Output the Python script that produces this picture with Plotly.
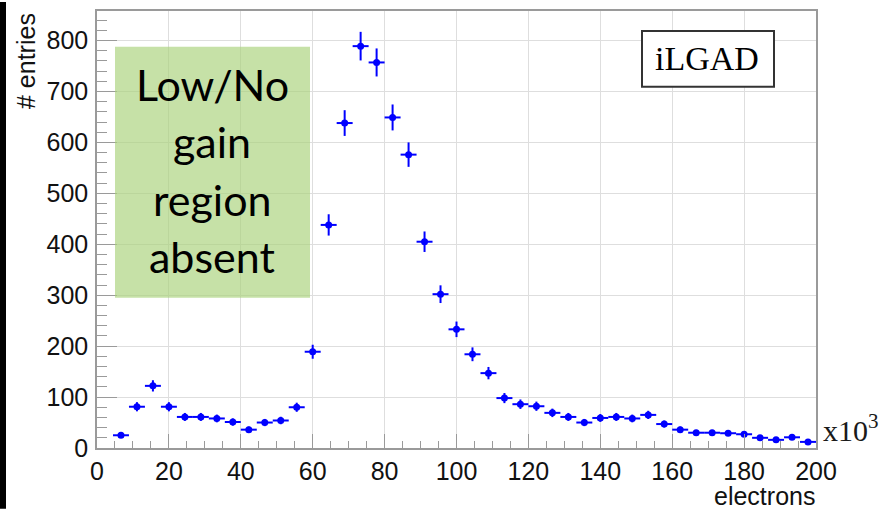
import numpy as np
import plotly.graph_objects as go

# Histogram binning: 45 bins spanning 0..200 (x10^3 electrons)
x_lo, x_hi, n_bins = 0.0, 200.0, 45
first_bin = 1  # bins are 0-indexed; bin 0 is empty

# Entries per bin, starting at bin index 1
counts = [25, 81, 122, 81, 61, 61, 58, 51, 36, 50, 54, 80,
          189, 438, 638, 789, 757, 649, 576, 405, 302, 233, 184, 147,
          98, 86, 82, 69, 61, 50, 59, 61, 58, 65, 47, 36,
          30, 30, 29, 27, 20, 16, 21, 12]

bin_w = (x_hi - x_lo) / n_bins
edges = x_lo + bin_w * np.arange(n_bins + 1)
centers = 0.5 * (edges[:-1] + edges[1:])
xs = centers[first_bin:first_bin + len(counts)]
ys = np.array(counts, dtype=float)
errs = np.sqrt(ys)  # Poisson uncertainty per bin

W, H = 892, 509
L, R, T, B = 97, 76, 9, 61
PW, PH = W - L - R, H - T - B


def px(x):
    return (x - L) / PW


def py(y):
    return 1 - (y - T) / PH


fig = go.Figure()
fig.add_trace(go.Scatter(
    x=xs, y=ys, mode="markers",
    marker=dict(color="#0000ff", size=7),
    error_x=dict(type="constant", value=bin_w / 2, color="#0000ff",
                 thickness=2, width=0),
    error_y=dict(type="data", array=errs, color="#0000ff",
                 thickness=2, width=0),
    showlegend=False, hoverinfo="x+y",
))

tick_font = dict(family="Liberation Sans, Arial, sans-serif", size=25, color="#111")
frame = "#9a9a9a"
grid = "#dedede"

fig.update_xaxes(
    range=[x_lo, x_hi], tickvals=[0, 20, 40, 60, 80, 100, 120, 140, 160, 180, 200],
    ticks="inside", ticklen=14, tickcolor=frame, tickwidth=1,
    minor=dict(dtick=5, ticks="inside", ticklen=7, tickcolor=frame, showgrid=False),
    showgrid=True, gridcolor=grid, gridwidth=1,
    showline=True, linecolor=frame, linewidth=1.5, mirror=True,
    zeroline=False, tickfont=tick_font, ticklabelstandoff=0,
)
fig.update_yaxes(
    range=[0, 858], tickvals=[0, 100, 200, 300, 400, 500, 600, 700, 800],
    ticks="inside", ticklen=20, tickcolor=frame, tickwidth=1,
    minor=dict(dtick=20, ticks="inside", ticklen=10, tickcolor=frame, showgrid=False),
    showgrid=True, gridcolor=grid, gridwidth=1,
    showline=True, linecolor=frame, linewidth=1.5, mirror=True,
    zeroline=False, tickfont=tick_font, ticklabelstandoff=2,
)

shapes = [
    # dark strip along the left edge of the page
    dict(type="rect", xref="paper", yref="paper", x0=px(0), x1=px(6), y0=py(H), y1=py(0),
         fillcolor="black", line=dict(width=0), layer="above"),
    # shaded region label box
    dict(type="rect", xref="paper", yref="paper", x0=px(115), x1=px(310), y0=py(297), y1=py(45),
         fillcolor="rgba(168,209,120,0.65)", line=dict(width=0), layer="above"),
    # device label box
    dict(type="rect", xref="paper", yref="paper", x0=px(642), x1=px(774), y0=py(85), y1=py(29),
         fillcolor="white", line=dict(color="#333", width=2), layer="above"),
]

label_font = dict(family="Lato, Open Sans, sans-serif", size=43, color="black")
annotations = [
    dict(text=t, x=px(212), y=py(yc), xref="paper", yref="paper", xanchor="center",
         yanchor="middle", showarrow=False, font=label_font)
    for t, yc in [("Low/No", 83), ("gain", 140), ("region", 198), ("absent", 256)]
]
annotations += [
    dict(text="iLGAD", x=px(707), y=py(57), xref="paper", yref="paper", xanchor="center",
         yanchor="middle", showarrow=False,
         font=dict(family="Liberation Serif, Times New Roman, serif", size=34, color="black")),
    dict(text="x10<sup>3</sup>", x=px(821), y=py(428), xref="paper", yref="paper",
         xanchor="left", yanchor="middle", showarrow=False,
         font=dict(family="Liberation Serif, Times New Roman, serif", size=30, color="#1a1a1a")),
    dict(text="electrons", x=px(816), y=py(496), xref="paper", yref="paper",
         xanchor="right", yanchor="middle", showarrow=False, borderpad=0,
         font=dict(family="Liberation Sans, Arial, sans-serif", size=25, color="#111")),
    dict(text="# entries", x=px(26), y=py(9), xref="paper", yref="paper",
         xanchor="center", yanchor="top", textangle=-90, showarrow=False,
         font=dict(family="Liberation Sans, Arial, sans-serif", size=25, color="#111")),
]

fig.update_layout(
    width=W, height=H,
    margin=dict(l=L, r=R, t=T, b=B),
    paper_bgcolor="white", plot_bgcolor="white",
    shapes=shapes, annotations=annotations,
)

fig.write_html("out.html")
